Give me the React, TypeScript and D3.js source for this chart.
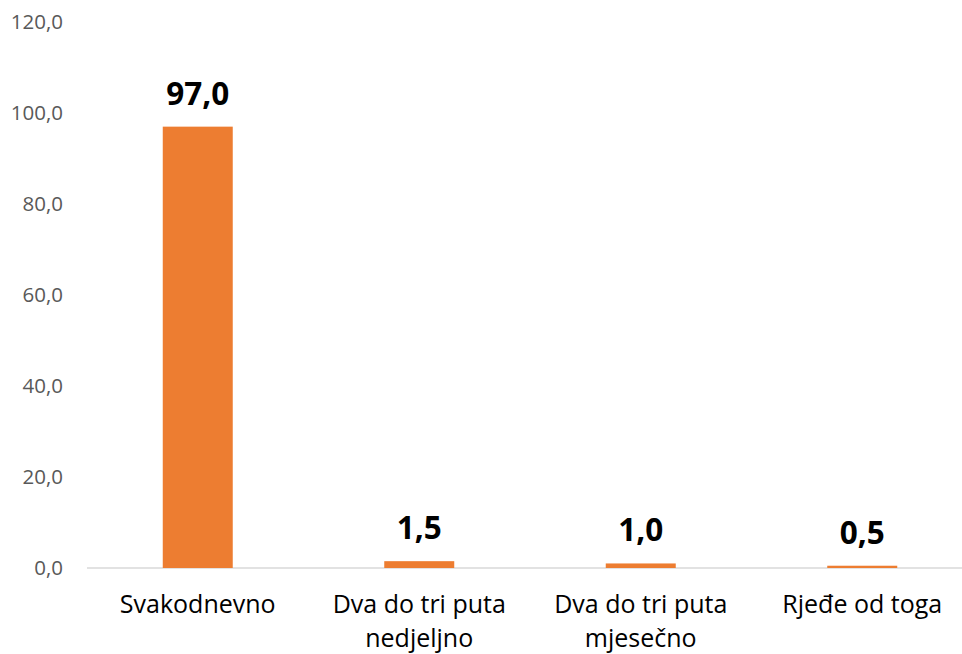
import React from "react";
import * as d3 from "d3";

const categories: string[][] = [
  ["Svakodnevno"],
  ["Dva do tri puta", "nedjeljno"],
  ["Dva do tri puta", "mjesečno"],
  ["Rjeđe od toga"],
];
const values: number[] = [97.0, 1.5, 1.0, 0.5];
const yTicks: number[] = [0, 20, 40, 60, 80, 100, 120];

const W = 962;
const H = 654;
const fmt = (v: number) => v.toFixed(1).replace(".", ",");

export default function App() {
  const x = d3.scaleBand<number>().domain(d3.range(values.length)).range([87, 973]).paddingInner(0.684).paddingOuter(0.342);
  const y = d3.scaleLinear().domain([0, 120]).range([568, 22]);
  const font = "'Open Sans', sans-serif";
  return (
    <svg width={W} height={H} style={{ position: "absolute", left: 0, top: 0, background: "#fff" }}>
      {yTicks.map((t) => (
        <text key={t} x={63} y={y(t)} dy="0.34em" textAnchor="end" fontFamily={font} fontSize={20.5} fill="#595959">
          {fmt(t)}
        </text>
      ))}
      <line x1={87} x2={W} y1={y(0)} y2={y(0)} stroke="#d9d9d9" strokeWidth={1.5} />
      {values.map((v, i) => (
        <g key={i}>
          <rect x={x(i)} width={x.bandwidth()} y={y(v)} height={y(0) - y(v)} fill="#ed7d31" />
          <text x={x(i)! + x.bandwidth() / 2} y={y(v) - 22} textAnchor="middle" fontFamily={font} fontWeight="bold" fontSize={31.5} fill="#000">
            {fmt(v)}
          </text>
          {categories[i].map((line, j) => (
            <text key={j} x={x(i)! + x.bandwidth() / 2} y={613 + j * 34} textAnchor="middle" fontFamily={font} fontSize={25} fill="#000">
              {line}
            </text>
          ))}
        </g>
      ))}
    </svg>
  );
}
